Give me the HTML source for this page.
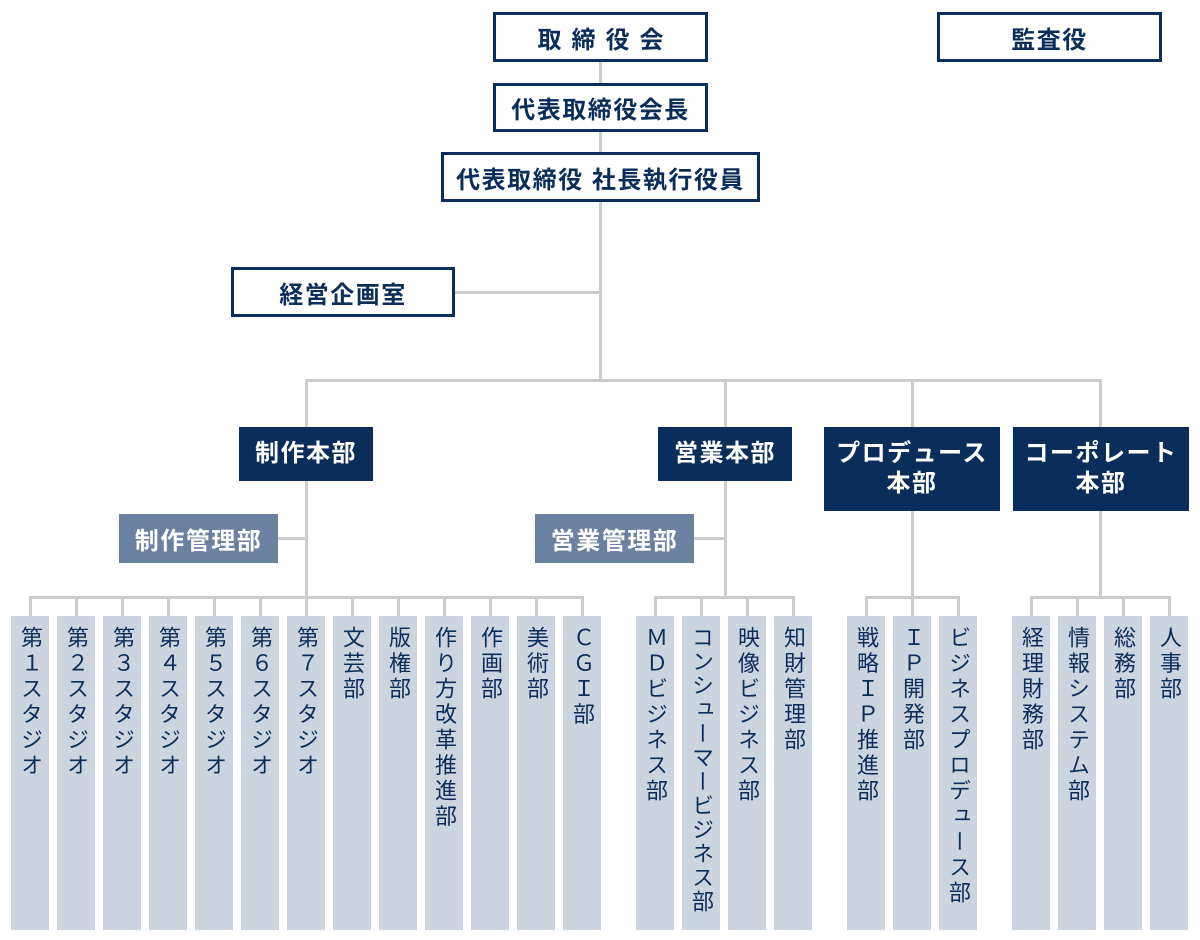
<!DOCTYPE html>
<html><head><meta charset="utf-8"><style>
body{margin:0;width:1200px;height:940px;background:#fff;position:relative;overflow:hidden;font-family:"Liberation Sans","Noto Sans CJK JP",sans-serif;}
.l{position:absolute;background:#cccccc;}
.b{position:absolute;box-sizing:border-box;border:3px solid #0b2d5b;color:#0b2d5b;font-weight:bold;font-size:24px;letter-spacing:1.5px;display:flex;align-items:center;justify-content:center;background:#fff;}
.h{position:absolute;box-sizing:border-box;background:#0b2d5b;color:#fff;font-weight:bold;font-size:24px;letter-spacing:1.5px;display:flex;align-items:center;justify-content:center;text-align:center;line-height:30px;}
.m{position:absolute;box-sizing:border-box;background:#6a819f;color:#fff;font-weight:bold;font-size:24px;letter-spacing:1.5px;display:flex;align-items:center;justify-content:center;}
.c{position:absolute;top:616px;width:38px;height:314px;background:#ccd4df;color:#0b2d5b;}
.c span{position:absolute;top:10px;left:50%;transform:translateX(-50%);writing-mode:vertical-rl;text-orientation:upright;font-size:22px;letter-spacing:3.5px;line-height:1;white-space:nowrap;}
</style></head><body>
<div class="l" style="left:599px;top:60px;width:3px;height:322px"></div>
<div class="l" style="left:452px;top:291px;width:148px;height:3px"></div>
<div class="l" style="left:305px;top:379px;width:797px;height:3px"></div>
<div class="l" style="left:305px;top:380px;width:3px;height:218px"></div>
<div class="l" style="left:724px;top:380px;width:3px;height:218px"></div>
<div class="l" style="left:911px;top:380px;width:3px;height:218px"></div>
<div class="l" style="left:1099px;top:380px;width:3px;height:218px"></div>
<div class="l" style="left:276px;top:537px;width:30px;height:3px"></div>
<div class="l" style="left:691px;top:537px;width:34px;height:3px"></div>
<div class="l" style="left:29px;top:596px;width:555px;height:3px"></div>
<div class="l" style="left:654px;top:596px;width:141px;height:3px"></div>
<div class="l" style="left:865px;top:596px;width:95px;height:3px"></div>
<div class="l" style="left:1030px;top:596px;width:141px;height:3px"></div>

<div class="b" style="left:493px;top:12px;width:215px;height:50px;letter-spacing:10px;padding-left:10px">取締役会</div>
<div class="b" style="left:937px;top:12px;width:225px;height:50px">監査役</div>
<div class="b" style="left:493px;top:83px;width:215px;height:49px">代表取締役会長</div>
<div class="b" style="left:441px;top:152px;width:319px;height:50px">代表取締役 社長執行役員</div>
<div class="b" style="left:231px;top:267px;width:224px;height:50px">経営企画室</div>

<div class="h" style="left:239px;top:427px;width:134px;height:54px">制作本部</div>
<div class="h" style="left:658px;top:427px;width:134px;height:54px">営業本部</div>
<div class="h" style="left:824px;top:427px;width:176px;height:84px">プロデュース<br>本部</div>
<div class="h" style="left:1013px;top:427px;width:176px;height:84px">コーポレート<br>本部</div>
<div class="m" style="left:119px;top:514px;width:159px;height:49px">制作管理部</div>
<div class="m" style="left:535px;top:514px;width:159px;height:49px">営業管理部</div>

<div class="l" style="left:29px;top:597px;width:3px;height:20px"></div><div class="c" style="left:11px"><span>第１スタジオ</span></div>
<div class="l" style="left:75px;top:597px;width:3px;height:20px"></div><div class="c" style="left:57px"><span>第２スタジオ</span></div>
<div class="l" style="left:121px;top:597px;width:3px;height:20px"></div><div class="c" style="left:103px"><span>第３スタジオ</span></div>
<div class="l" style="left:167px;top:597px;width:3px;height:20px"></div><div class="c" style="left:149px"><span>第４スタジオ</span></div>
<div class="l" style="left:213px;top:597px;width:3px;height:20px"></div><div class="c" style="left:195px"><span>第５スタジオ</span></div>
<div class="l" style="left:259px;top:597px;width:3px;height:20px"></div><div class="c" style="left:241px"><span>第６スタジオ</span></div>
<div class="l" style="left:305px;top:597px;width:3px;height:20px"></div><div class="c" style="left:287px"><span>第７スタジオ</span></div>
<div class="l" style="left:351px;top:597px;width:3px;height:20px"></div><div class="c" style="left:333px"><span>文芸部</span></div>
<div class="l" style="left:397px;top:597px;width:3px;height:20px"></div><div class="c" style="left:379px"><span>版権部</span></div>
<div class="l" style="left:443px;top:597px;width:3px;height:20px"></div><div class="c" style="left:425px"><span>作り方改革推進部</span></div>
<div class="l" style="left:489px;top:597px;width:3px;height:20px"></div><div class="c" style="left:471px"><span>作画部</span></div>
<div class="l" style="left:535px;top:597px;width:3px;height:20px"></div><div class="c" style="left:517px"><span>美術部</span></div>
<div class="l" style="left:581px;top:597px;width:3px;height:20px"></div><div class="c" style="left:563px"><span>ＣＧＩ部</span></div>

<div class="l" style="left:654px;top:597px;width:3px;height:20px"></div><div class="c" style="left:636px"><span>ＭＤビジネス部</span></div>
<div class="l" style="left:700px;top:597px;width:3px;height:20px"></div><div class="c" style="left:682px"><span style="letter-spacing:2px">コンシューマービジネス部</span></div>
<div class="l" style="left:746px;top:597px;width:3px;height:20px"></div><div class="c" style="left:728px"><span>映像ビジネス部</span></div>
<div class="l" style="left:792px;top:597px;width:3px;height:20px"></div><div class="c" style="left:774px"><span>知財管理部</span></div>

<div class="l" style="left:865px;top:597px;width:3px;height:20px"></div><div class="c" style="left:847px"><span>戦略ＩＰ推進部</span></div>
<div class="l" style="left:911px;top:597px;width:3px;height:20px"></div><div class="c" style="left:893px"><span>ＩＰ開発部</span></div>
<div class="l" style="left:957px;top:597px;width:3px;height:20px"></div><div class="c" style="left:939px"><span>ビジネスプロデュース部</span></div>

<div class="l" style="left:1030px;top:597px;width:3px;height:20px"></div><div class="c" style="left:1012px"><span>経理財務部</span></div>
<div class="l" style="left:1076px;top:597px;width:3px;height:20px"></div><div class="c" style="left:1058px"><span>情報システム部</span></div>
<div class="l" style="left:1122px;top:597px;width:3px;height:20px"></div><div class="c" style="left:1104px"><span>総務部</span></div>
<div class="l" style="left:1168px;top:597px;width:3px;height:20px"></div><div class="c" style="left:1150px"><span>人事部</span></div>
</body></html>
